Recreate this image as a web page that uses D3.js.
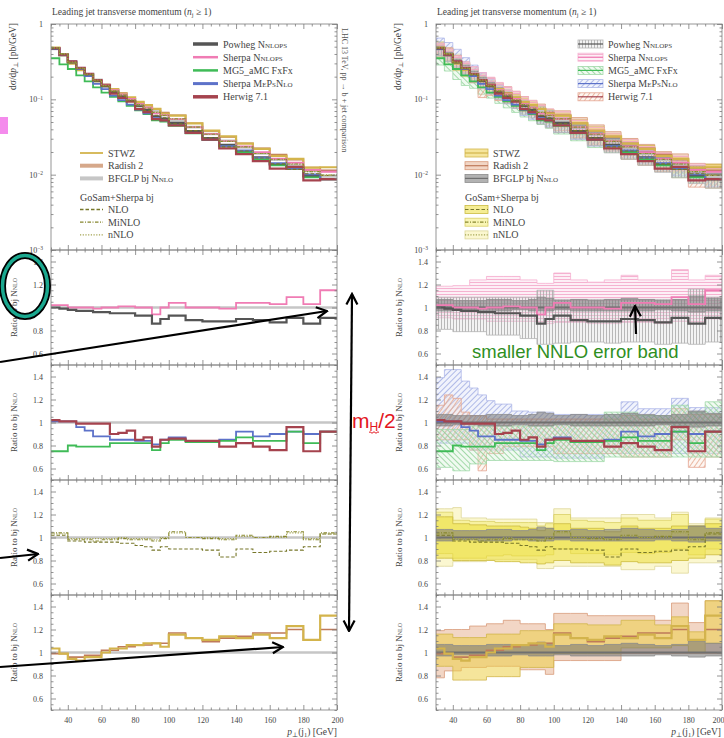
<!DOCTYPE html>
<html>
<head>
<meta charset="utf-8">
<script src="https://cdn.jsdelivr.net/npm/d3@7"></script>
<style>
html, body { margin: 0; padding: 0; background: #fff; }
svg { display: block; }
.sc { font-variant: small-caps; }
</style>
</head>
<body>
<svg id="chart" width="724" height="738"></svg>
<script>
// ---------- data ----------
// bin edges of the leading-jet transverse momentum, GeV
const binEdges = [30,35,40,45,50,55,60,65,70,75,80,85,90,95,100,110,120,130,140,150,160,170,180,190,200];

// reference prediction: BFGLP bj NNLO, dσ/dp⊥ in pb/GeV
const bfglpNnlo   = [0.468,0.389,0.316,0.263,0.219,0.182,0.155,0.132,0.115,0.100,0.087,0.0776,0.0692,0.0617,0.0525,0.0427,0.0347,0.0282,0.0229,0.0191,0.0158,0.0132,0.0112,0.0095];
const bfglpNnloLo = [0.97,0.97,0.98,0.98,0.98,0.97,0.97,0.97,0.97,0.98,0.98,0.97,0.97,0.97,0.98,0.97,0.97,0.97,0.97,0.97,0.98,0.97,0.96,0.97];
const bfglpNnloHi = [1.07,1.07,1.06,1.06,1.06,1.06,1.07,1.07,1.07,1.06,1.06,1.07,1.09,1.08,1.06,1.07,1.06,1.07,1.08,1.07,1.06,1.07,1.10,1.08];

// other predictions, as ratio to bj NNLO (central value, band low, band high)
const powhegNnlops   = [1.00,0.99,0.98,0.97,0.97,0.96,0.96,0.95,0.95,0.95,0.93,0.93,0.86,0.90,0.93,0.89,0.88,0.88,0.90,0.89,0.87,0.91,0.86,0.91];
const powhegNnlopsLo = [0.81,0.81,0.79,0.79,0.79,0.79,0.76,0.76,0.76,0.76,0.73,0.73,0.68,0.68,0.69,0.70,0.70,0.69,0.70,0.70,0.68,0.69,0.68,0.70];
const powhegNnlopsHi = [1.09,1.09,1.09,1.09,1.09,1.09,1.09,1.09,1.09,1.09,1.09,1.09,1.15,1.15,1.07,1.07,1.07,1.07,1.07,1.07,1.07,1.07,1.16,1.09];

const sherpaNnlops   = [1.02,1.02,1.00,1.00,1.00,0.99,1.00,1.00,1.01,1.01,1.00,1.00,0.94,1.00,1.04,1.00,1.00,0.99,1.04,1.04,1.03,1.09,1.03,1.15];
const sherpaNnlopsLo = [0.91,0.91,0.90,0.90,0.90,0.90,0.88,0.88,0.88,0.88,0.88,0.88,0.86,0.86,0.87,0.87,0.86,0.86,0.87,0.87,0.86,0.88,0.86,0.90];
const sherpaNnlopsHi = [1.185,1.185,1.19,1.19,1.24,1.24,1.27,1.27,1.27,1.27,1.24,1.24,1.21,1.21,1.30,1.24,1.22,1.24,1.28,1.24,1.24,1.33,1.24,1.28];

const mg5Fxfx   = [0.75,0.75,0.80,0.79,0.79,0.79,0.79,0.82,0.82,0.82,0.82,0.82,0.76,0.82,0.85,0.83,0.83,0.84,0.87,0.84,0.84,0.92,0.82,0.92];
const mg5FxfxLo = [0.61,0.61,0.58,0.58,0.64,0.64,0.67,0.67,0.67,0.67,0.67,0.67,0.67,0.67,0.66,0.66,0.66,0.70,0.70,0.70,0.70,0.70,0.70,0.70];
const mg5FxfxHi = [0.94,0.94,0.94,0.94,0.97,0.97,0.97,0.97,0.97,0.97,0.97,0.97,0.97,0.97,1.00,1.00,1.00,1.09,1.09,1.06,1.06,1.15,1.09,1.18];

const sherpaMepsnlo   = [1.01,1.01,1.01,0.96,0.93,0.88,0.88,0.85,0.85,0.85,0.84,0.84,0.81,0.85,0.87,0.84,0.84,0.85,0.92,0.88,0.90,0.92,0.90,0.92];
const sherpaMepsnloLo = [0.82,0.82,0.82,0.82,0.76,0.76,0.76,0.76,0.76,0.76,0.70,0.70,0.70,0.70,0.69,0.69,0.69,0.73,0.73,0.73,0.73,0.73,0.73,0.73];
const sherpaMepsnloHi = [1.39,1.46,1.46,1.36,1.30,1.24,1.19,1.16,1.16,1.10,1.10,1.09,1.09,1.09,1.07,1.07,1.07,1.07,1.18,1.12,1.12,1.21,1.13,1.13];

const herwig71   = [1.02,1.01,1.01,0.99,0.99,0.99,0.99,0.90,0.91,0.93,0.85,0.87,0.79,0.85,0.86,0.84,0.84,0.79,0.82,0.79,0.76,0.96,0.75,0.92];
const herwig71Lo = [0.85,0.85,0.85,0.85,0.76,0.58,0.73,0.73,0.79,0.79,0.79,0.79,0.79,0.79,0.73,0.73,0.73,0.73,0.70,0.70,0.70,0.85,0.61,0.70];
const herwig71Hi = [1.15,1.24,1.21,1.09,1.06,1.06,1.03,1.03,1.03,1.03,1.03,1.03,1.03,1.03,1.03,1.03,1.03,1.03,1.06,1.03,1.03,1.12,1.07,1.07];

const stwz   = [1.035,0.99,0.945,0.93,0.96,0.96,1.00,1.035,1.035,1.065,1.065,1.08,1.08,1.05,1.155,1.125,1.11,1.14,1.125,1.155,1.125,1.23,1.11,1.32];
const stwzLo = [0.88,0.88,0.76,0.76,0.76,0.76,0.79,0.79,0.79,0.79,0.87,0.87,0.87,0.87,0.99,0.99,0.99,0.99,1.04,1.04,1.04,1.06,1.00,1.08];
const stwzHi = [1.16,1.16,1.13,1.13,1.13,1.13,1.16,1.16,1.16,1.16,1.19,1.19,1.19,1.19,1.25,1.25,1.24,1.24,1.28,1.28,1.24,1.31,1.18,1.45];

const radish2   = [0.99,0.99,0.96,0.96,0.975,0.975,1.02,1.02,1.05,1.05,1.065,1.065,1.08,1.08,1.17,1.125,1.095,1.125,1.14,1.17,1.17,1.20,1.11,1.20];
const radish2Lo = [0.78,0.84,0.84,0.87,0.87,0.87,0.88,0.88,0.88,0.88,0.85,0.85,0.85,0.81,0.93,0.93,0.93,0.93,0.99,0.99,0.99,0.99,0.99,0.99];
const radish2Hi = [1.19,1.20,1.20,1.20,1.23,1.23,1.25,1.25,1.28,1.28,1.25,1.25,1.25,1.20,1.34,1.34,1.32,1.32,1.32,1.32,1.28,1.43,1.26,1.45];

const gosamNlo   = [1.02,1.02,0.97,0.97,0.96,0.96,0.96,0.96,0.95,0.95,0.93,0.92,0.89,0.92,0.90,0.90,0.89,0.83,0.90,0.87,0.88,0.89,0.92,1.03];
const gosamNloLo = [0.82,0.82,0.80,0.80,0.80,0.80,0.80,0.79,0.79,0.79,0.78,0.78,0.77,0.78,0.80,0.78,0.78,0.76,0.79,0.78,0.78,0.80,0.82,0.85];
const gosamNloHi = [1.18,1.18,1.12,1.12,1.11,1.11,1.10,1.10,1.10,1.10,1.09,1.08,1.06,1.08,1.12,1.08,1.08,1.05,1.10,1.08,1.08,1.10,1.10,1.12];

const gosamMinlo   = [1.04,1.04,0.98,0.98,0.98,0.97,0.98,0.98,0.99,0.98,0.98,0.98,0.97,0.99,1.05,1.00,0.99,0.98,1.02,1.00,1.01,1.05,0.98,1.04];
const gosamMinloLo = [0.86,0.86,0.82,0.82,0.82,0.82,0.84,0.84,0.85,0.84,0.84,0.84,0.84,0.85,0.90,0.86,0.86,0.85,0.87,0.86,0.87,0.90,0.85,0.90];
const gosamMinloHi = [1.22,1.22,1.15,1.15,1.14,1.14,1.14,1.13,1.13,1.13,1.13,1.13,1.10,1.12,1.20,1.15,1.14,1.13,1.17,1.15,1.15,1.20,1.10,1.16];

const gosamNnlo   = [1.03,1.03,0.99,0.99,0.99,0.99,0.99,0.99,1.00,0.99,0.99,0.99,0.98,1.00,1.04,1.00,1.00,0.99,1.01,1.00,1.00,1.04,0.99,1.03];
const gosamNnloLo = [0.75,0.75,0.79,0.79,0.79,0.79,0.81,0.81,0.81,0.81,0.81,0.81,0.73,0.73,0.75,0.75,0.75,0.75,0.72,0.72,0.75,0.69,0.78,0.78];
const gosamNnloHi = [1.25,1.25,1.26,1.17,1.17,1.17,1.16,1.16,1.16,1.16,1.16,1.16,1.13,1.13,1.25,1.17,1.17,1.17,1.20,1.20,1.17,1.22,1.12,1.17];

// axis ticks
const xTickValues = [40,60,80,100,120,140,160,180,200];
const ratioTickValues = [0.6,0.8,1,1.2,1.4];
const logTickValues = [1e-3,1e-2,1e-1,1];

// ---------- drawing set-up ----------
const svg = d3.select('#chart');
svg.append('rect').attr('width', 724).attr('height', 738).attr('fill', '#fff');
const defs = svg.append('defs');

function hatch(id, color, angle, bg, spacing, w) {
  const p = defs.append('pattern').attr('id', id)
    .attr('patternUnits', 'userSpaceOnUse')
    .attr('width', spacing).attr('height', spacing)
    .attr('patternTransform', `rotate(${angle})`);
  p.append('rect').attr('width', spacing).attr('height', spacing).attr('fill', bg);
  p.append('line').attr('x1', 0.5).attr('y1', 0).attr('x2', 0.5).attr('y2', spacing)
    .attr('stroke', color).attr('stroke-width', w);
}
hatch('hV',  '#a9a9a9', 0,   'rgba(215,215,215,0.30)', 3, 0.8);
hatch('hH',  '#f3a2c6', 90,  'rgba(250,210,228,0.35)', 3, 0.8);
hatch('hD1', '#9eabe2', 45,  'rgba(210,216,244,0.30)', 4, 0.8);
hatch('hD2', '#8fd097', -45, 'rgba(206,238,210,0.30)', 4, 0.8);
hatch('hD3', '#e5a88e', 35,  'rgba(246,218,204,0.25)', 4, 0.8);

const refRatio = bfglpNnlo.map((v, i) => v / bfglpNnlo[i]);

// series table built from the arrays above
const S = {
  bfglp:  { label: ['BFGLP bj ', 'Nnlo'], ratio: refRatio, lo: bfglpNnloLo, hi: bfglpNnloHi,
            color: '#c6c6c6', darkColor: '#707070', width: 2.6, legendWidth: 4,
            fill: 'rgba(115,115,115,0.55)', bandStroke: '#8c8c8c' },
  powheg: { label: ['Powheg ', 'Nnlops'], ratio: powhegNnlops, lo: powhegNnlopsLo, hi: powhegNnlopsHi,
            color: '#555555', width: 2.2, legendWidth: 3.5, fill: 'url(#hV)', bandStroke: '#b4b4b4' },
  shNnlops:{ label: ['Sherpa ', 'Nnlops'], ratio: sherpaNnlops, lo: sherpaNnlopsLo, hi: sherpaNnlopsHi,
            color: '#f07cb4', width: 1.8, legendWidth: 2.5, fill: 'url(#hH)', bandStroke: '#f6b0d0' },
  mg5:    { label: ['MG5_aMC FxFx', ''], ratio: mg5Fxfx, lo: mg5FxfxLo, hi: mg5FxfxHi,
            color: '#3fbb57', width: 1.8, legendWidth: 2.5, fill: 'url(#hD2)', bandStroke: '#9fd9a8' },
  meps:   { label: ['Sherpa ', 'MePsNlo'], ratio: sherpaMepsnlo, lo: sherpaMepsnloLo, hi: sherpaMepsnloHi,
            color: '#5d72c9', width: 1.8, legendWidth: 3, fill: 'url(#hD1)', bandStroke: '#aeb8e8' },
  herwig: { label: ['Herwig 7.1', ''], ratio: herwig71, lo: herwig71Lo, hi: herwig71Hi,
            color: '#a5434e', width: 2.2, legendWidth: 3.5, fill: 'url(#hD3)', bandStroke: '#e4a692' },
  stwz:   { label: ['STWZ', ''], ratio: stwz, lo: stwzLo, hi: stwzHi,
            color: '#d3b44c', width: 2.2, legendWidth: 1.8, fill: 'rgba(236,208,72,0.55)', bandStroke: '#d2b64c' },
  radish: { label: ['Radish 2', ''], ratio: radish2, lo: radish2Lo, hi: radish2Hi,
            color: '#bf7a5a', width: 1.6, legendWidth: 4, legendColor: '#d6a88a',
            fill: 'rgba(232,180,150,0.55)', bandStroke: '#d89a7a' },
  nlo:    { label: ['NLO', ''], ratio: gosamNlo, lo: gosamNloLo, hi: gosamNloHi,
            color: '#77772a', width: 1.1, dash: '3.5,2', legendWidth: 1.3,
            fill: 'rgba(236,222,60,0.55)', bandStroke: '#cbbb40' },
  minlo:  { label: ['MiNLO', ''], ratio: gosamMinlo, lo: gosamMinloLo, hi: gosamMinloHi,
            color: '#86862e', width: 1.1, dash: '3.5,1.5,1,1.5', legendWidth: 1.3,
            fill: 'rgba(244,236,120,0.55)', bandStroke: '#d9cf66' },
  nnlo:   { label: ['nNLO', ''], ratio: gosamNnlo, lo: gosamNnloLo, hi: gosamNnloHi,
            color: '#a3a350', width: 1.1, dash: '1.2,1.5', legendWidth: 1.3,
            fill: 'rgba(250,246,200,0.85)', bandStroke: '#ddd79a' }
};

const n = bfglpNnlo.length;
const serif = 'Liberation Serif, DejaVu Serif, serif';
const plotLeft = 51, plotRight = 337;
const rows = [
  { key: 'main', top: 24,  bottom: 250 },
  { key: 'r1',   top: 250, bottom: 365, lines: ['shNnlops', 'powheg'],          bands: ['shNnlops', 'powheg'] },
  { key: 'r2',   top: 365, bottom: 480, lines: ['meps', 'mg5', 'herwig'],        bands: ['meps', 'herwig', 'mg5'] },
  { key: 'r3',   top: 480, bottom: 595, lines: ['nlo', 'minlo', 'nnlo'],         bands: ['nnlo', 'minlo', 'nlo'] },
  { key: 'r4',   top: 595, bottom: 710, lines: ['radish', 'stwz'],               bands: ['radish', 'stwz'] }
];
const mainOrder = ['bfglp', 'radish', 'stwz', 'powheg', 'shNnlops', 'mg5', 'meps', 'herwig', 'nlo', 'minlo', 'nnlo'];
const mainBands = ['nnlo', 'minlo', 'nlo', 'radish', 'stwz', 'mg5', 'meps', 'herwig', 'shNnlops', 'powheg', 'bfglp'];

function stepPts(vals) {
  const pts = vals.map((v, i) => [binEdges[i], v]);
  pts.push([binEdges[n], vals[n - 1]]);
  return pts;
}
function bandPts(lo, hi) {
  const pts = lo.map((v, i) => [binEdges[i], v, hi[i]]);
  pts.push([binEdges[n], lo[n - 1], hi[n - 1]]);
  return pts;
}

function styleAxis(g) {
  g.select('.domain').remove();
  g.selectAll('.tick line').attr('stroke', '#7a7a7a').attr('stroke-width', 0.8);
  g.selectAll('.tick text').attr('fill', '#444').attr('font-family', serif).attr('font-size', 8);
}

function drawPanel(offset, banded, clipBase, showNote) {
  const root = svg.append('g');
  const x = d3.scaleLinear().domain([30, 200]).range([plotLeft + offset, plotRight + offset]);
  const xMinor = d3.range(30, 201, 5).filter(v => !xTickValues.includes(v));

  rows.forEach((row, ri) => {
    const isMain = row.key === 'main';
    const y = isMain
      ? d3.scaleLog().domain([1e-3, 1]).range([row.bottom, row.top])
      : d3.scaleLinear().domain([0.5, 1.5]).range([row.bottom, row.top]);
    const val = (key, arr) => isMain ? arr.map((r, i) => r * bfglpNnlo[i]) : arr;

    const clipId = `${clipBase}-${row.key}`;
    defs.append('clipPath').attr('id', clipId).append('rect')
      .attr('x', x(30)).attr('y', row.top).attr('width', x(200) - x(30)).attr('height', row.bottom - row.top);
    const plot = root.append('g').attr('clip-path', `url(#${clipId})`);

    const line = d3.line().x(d => x(d[0])).y(d => y(d[1])).curve(d3.curveStepAfter);
    const area = d3.area().x(d => x(d[0])).y0(d => y(d[1])).y1(d => y(d[2])).curve(d3.curveStepAfter);

    // uncertainty bands
    if (banded) {
      const bandKeys = isMain ? mainBands : row.bands.concat(['bfglp']);
      bandKeys.forEach(k => {
        const s = S[k];
        plot.append('path').datum(bandPts(val(k, s.lo), val(k, s.hi)))
          .attr('d', area).attr('fill', s.fill)
          .attr('stroke', s.bandStroke).attr('stroke-width', 0.8);
      });
    }

    // central values
    const lineKeys = isMain ? mainOrder : ['bfglp'].concat(row.lines);
    lineKeys.forEach(k => {
      const s = S[k];
      let color = s.color, width = s.width;
      if (k === 'bfglp' && banded && !isMain) { color = s.darkColor; width = 1.8; }
      plot.append('path').datum(stepPts(val(k, s.ratio)))
        .attr('d', line).attr('fill', 'none')
        .attr('stroke', color).attr('stroke-width', width)
        .attr('stroke-dasharray', s.dash || null);
    });

    // frame
    root.append('rect').attr('x', x(30)).attr('y', row.top)
      .attr('width', x(200) - x(30)).attr('height', row.bottom - row.top)
      .attr('fill', 'none').attr('stroke', '#8a8a8a').attr('stroke-width', 0.9);

    // x ticks, bottom and top edges
    const last = ri === rows.length - 1;
    const gx = root.append('g').attr('transform', `translate(0,${row.bottom})`)
      .call(d3.axisBottom(x).tickValues(xTickValues).tickSize(-5).tickPadding(7)
        .tickFormat(last ? d3.format('d') : () => ''))
      .call(styleAxis);
    if (last && x(200) > 700) {
      // keep the final label inside the page edge
      gx.selectAll('.tick text').filter(d => d === 200).attr('text-anchor', 'end').attr('dx', 2);
    }
    root.append('g').attr('transform', `translate(0,${row.bottom})`)
      .call(d3.axisBottom(x).tickValues(xMinor).tickSize(-2.5).tickFormat(() => ''))
      .call(styleAxis);
    root.append('g').attr('transform', `translate(0,${row.top})`)
      .call(d3.axisTop(x).tickValues(xTickValues).tickSize(-5).tickFormat(() => ''))
      .call(styleAxis);
    root.append('g').attr('transform', `translate(0,${row.top})`)
      .call(d3.axisTop(x).tickValues(xMinor).tickSize(-2.5).tickFormat(() => ''))
      .call(styleAxis);

    // y ticks, left and right edges
    let yMinor;
    if (isMain) {
      yMinor = [];
      [-3, -2, -1].forEach(e => d3.range(2, 10).forEach(m => yMinor.push(m * Math.pow(10, e))));
    } else {
      yMinor = d3.range(0.5, 1.501, 0.05).filter(v => !ratioTickValues.some(t => Math.abs(t - v) < 1e-6));
    }
    const yMajor = isMain ? logTickValues : ratioTickValues;
    const gl = root.append('g').attr('transform', `translate(${x(30)},0)`)
      .call(d3.axisLeft(y).tickValues(yMajor).tickSize(-5).tickPadding(8)
        .tickFormat(d => isMain ? '' : (d === 1 ? '1' : d3.format('.1f')(d))))
      .call(styleAxis);
    if (isMain) {
      gl.selectAll('.tick text').each(function (d) {
        const t = d3.select(this);
        const e = Math.round(Math.log10(d));
        if (e === 0) { t.text('1'); }
        else {
          t.text('10');
          t.append('tspan').attr('dy', '-0.5em').attr('font-size', 5.5).text('−' + Math.abs(e));
        }
      });
    }
    root.append('g').attr('transform', `translate(${x(30)},0)`)
      .call(d3.axisLeft(y).tickValues(yMinor).tickSize(-2.5).tickFormat(() => ''))
      .call(styleAxis);
    root.append('g').attr('transform', `translate(${x(200)},0)`)
      .call(d3.axisRight(y).tickValues(yMajor).tickSize(-5).tickFormat(() => ''))
      .call(styleAxis);
    root.append('g').attr('transform', `translate(${x(200)},0)`)
      .call(d3.axisRight(y).tickValues(yMinor).tickSize(-2.5).tickFormat(() => ''))
      .call(styleAxis);

    // y titles
    const ty = root.append('text').attr('font-family', serif).attr('fill', '#444');
    if (isMain) {
      ty.attr('font-size', 9.5).attr('text-anchor', 'end')
        .attr('transform', `translate(${offset + 16},23) rotate(-90)`);
      ty.append('tspan').text('dσ/d');
      ty.append('tspan').attr('font-style', 'italic').text('p');
      ty.append('tspan').attr('font-size', 6.5).attr('dy', 2).text('⊥');
      ty.append('tspan').attr('dy', -2).text(' [pb/GeV]');
    } else {
      ty.attr('font-size', 9).attr('text-anchor', 'middle')
        .attr('transform', `translate(${offset + 17},${(row.top + row.bottom) / 2}) rotate(-90)`);
      ty.append('tspan').text('Ratio to bj ');
      ty.append('tspan').attr('class', 'sc').text('Nnlo');
    }
  });

  // title
  const title = root.append('text').attr('x', plotLeft + offset + 1).attr('y', 15)
    .attr('font-family', serif).attr('font-size', 9.5).attr('fill', '#444');
  title.append('tspan').text('Leading jet transverse momentum (');
  title.append('tspan').attr('font-style', 'italic').text('n');
  title.append('tspan').attr('font-size', 6.5).attr('dy', 2).text('j');
  title.append('tspan').attr('dy', -2).text(' ≥ 1)');

  // x title
  const xt = root.append('text').attr('x', Math.min(plotRight + offset, 721)).attr('y', 735)
    .attr('text-anchor', 'end').attr('font-family', serif).attr('font-size', 9.5).attr('fill', '#444');
  xt.append('tspan').attr('font-style', 'italic').text('p');
  xt.append('tspan').attr('font-size', 6.5).attr('dy', 2).text('⊥');
  xt.append('tspan').attr('dy', -2).text('(j');
  xt.append('tspan').attr('font-size', 6.5).attr('dy', 2).text('1');
  xt.append('tspan').attr('dy', -2).text(') [GeV]');

  // process note along the right edge of the spectrum panel
  if (showNote) {
    root.append('text').attr('font-family', serif).attr('font-size', 8).attr('fill', '#555')
      .attr('transform', `translate(${plotRight + offset + 5},28) rotate(90)`)
      .text('LHC 13 TeV, pp → b + jet comparison');
  }

  // legends
  const legend = root.append('g').attr('font-family', serif).attr('font-size', 10).attr('fill', '#444');
  function entry(k, x0, yc, wBox) {
    const s = S[k];
    if (banded) {
      legend.append('rect').attr('x', x0).attr('y', yc - 4).attr('width', wBox).attr('height', 8)
        .attr('fill', s.fill).attr('stroke', s.bandStroke).attr('stroke-width', 0.8);
      legend.append('line').attr('x1', x0).attr('x2', x0 + wBox).attr('y1', yc).attr('y2', yc)
        .attr('stroke', k === 'bfglp' ? s.darkColor : s.color).attr('stroke-width', 1.2)
        .attr('stroke-dasharray', s.dash || null);
    } else {
      legend.append('line').attr('x1', x0).attr('x2', x0 + wBox).attr('y1', yc).attr('y2', yc)
        .attr('stroke', s.legendColor || s.color).attr('stroke-width', s.legendWidth)
        .attr('stroke-dasharray', s.dash || null);
    }
    const t = legend.append('text').attr('x', x0 + wBox + 5).attr('y', yc + 3.5);
    t.append('tspan').text(s.label[0]);
    if (s.label[1]) t.append('tspan').attr('class', 'sc').text(s.label[1]);
  }
  ['powheg', 'shNnlops', 'mg5', 'meps', 'herwig'].forEach((k, i) =>
    entry(k, 193 + offset, 44 + i * 13.2, 25));
  ['stwz', 'radish', 'bfglp'].forEach((k, i) =>
    entry(k, 80 + offset, 153 + i * 12.7, 23));
  legend.append('text').attr('x', 80 + offset).attr('y', 200.5).text('GoSam+Sherpa bj');
  ['nlo', 'minlo', 'nnlo'].forEach((k, i) =>
    entry(k, 80 + offset, 209.5 + i * 12.7, 23));
}

drawPanel(0, false, 'clipL', true);
drawPanel(385, true, 'clipR', false);

// ---------- annotations ----------
const ann = svg.append('g');
defs.append('marker').attr('id', 'arrowHead')
  .attr('markerUnits', 'userSpaceOnUse').attr('markerWidth', 14).attr('markerHeight', 14)
  .attr('viewBox', '0 0 14 14').attr('refX', 12.5).attr('refY', 7)
  .attr('orient', 'auto-start-reverse')
  .append('path').attr('d', 'M2,1.5 L12.5,7 L2,12.5').attr('fill', 'none')
  .attr('stroke', '#000').attr('stroke-width', 2.2).attr('stroke-linejoin', 'miter');

function arrow(x1, y1, x2, y2, both) {
  ann.append('line').attr('x1', x1).attr('y1', y1).attr('x2', x2).attr('y2', y2)
    .attr('stroke', '#000').attr('stroke-width', 2.2)
    .attr('marker-end', 'url(#arrowHead)')
    .attr('marker-start', both ? 'url(#arrowHead)' : null);
}
arrow(0, 362, 327, 311);
arrow(0, 558, 38, 554);
arrow(0, 667, 283, 647);
arrow(352, 294, 349, 631, true);
arrow(636, 334, 635, 306);

// highlight ring round the ratio scale
ann.append('ellipse').attr('cx', 25).attr('cy', 286).attr('rx', 22.5).attr('ry', 30.5)
  .attr('fill', 'none').attr('stroke', '#000').attr('stroke-width', 7);
ann.append('ellipse').attr('cx', 25).attr('cy', 286).attr('rx', 22.5).attr('ry', 30.5)
  .attr('fill', 'none').attr('stroke', '#1ba88f').attr('stroke-width', 3.5);

// marker square at the left edge
ann.append('rect').attr('x', 0).attr('y', 117).attr('width', 8).attr('height', 17).attr('fill', '#f48bec');

// scale note
const mh = ann.append('text').attr('x', 352).attr('y', 428)
  .attr('font-family', 'Liberation Sans, Arial, sans-serif').attr('font-size', 21).attr('fill', '#e3161e');
mh.append('tspan').text('m');
mh.append('tspan').attr('font-size', 12).attr('dy', 3).text('H');
mh.append('tspan').attr('dy', -3).text('/2');
ann.append('path')
  .attr('d', 'M369,432.5 q1,-1.5 2,0 t2,0 t2,0 t2,0 t2,0')
  .attr('fill', 'none').attr('stroke', '#e3161e').attr('stroke-width', 1);

// band note
ann.append('text').attr('x', 472).attr('y', 358)
  .attr('font-family', 'Liberation Sans, Arial, sans-serif').attr('font-size', 18.5)
  .attr('fill', '#2f8f1f').text('smaller NNLO error band');
</script>
</body>
</html>
